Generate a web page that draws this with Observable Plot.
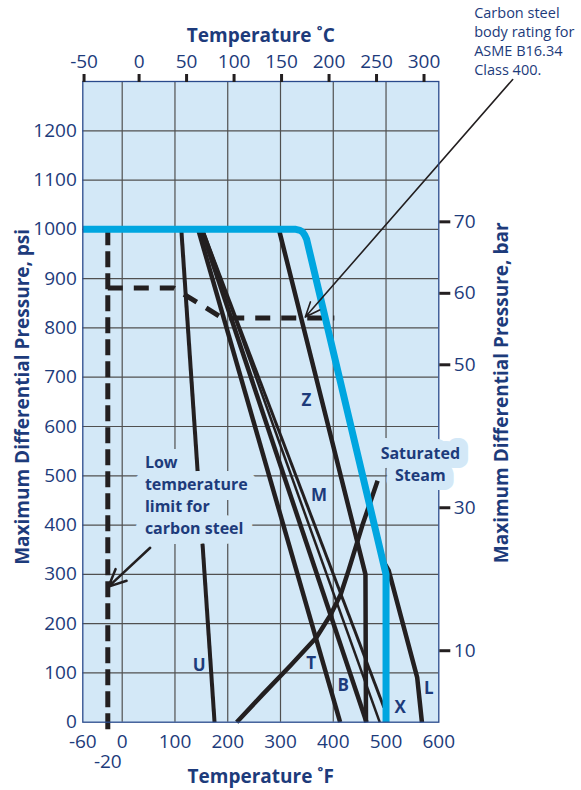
<!DOCTYPE html>
<html>
<head>
<meta charset="utf-8">
<script src="https://cdn.jsdelivr.net/npm/d3@7"></script>
<script src="https://cdn.jsdelivr.net/npm/@observablehq/plot@0.6"></script>
<style>
  html, body { margin: 0; padding: 0; background: #ffffff; }
  svg { display: block; }
</style>
</head>
<body>
<div id="chart"></div>
<script>
// ---------- colours ----------
const NAVY = "#1d3b7b";
const INK = "#231f20";
const BLUE = "#00a6e0";
const BG = "#d3e8f7";
const GRID = "#505050";
const FRAME = "#2a4a8c";

// ---------- ticks ----------
const PSI_PER_BAR = 14.5038;
const fTicks = [-60, 0, 100, 200, 300, 400, 500, 600];
const fLowTick = [-20];
const fGrid = [0, 100, 200, 300, 400, 500];
const cTicks = [-50, 0, 50, 100, 150, 200, 250, 300];
const psiTicks = [0, 100, 200, 300, 400, 500, 600, 700, 800, 900, 1000, 1100, 1200];
const psiGrid = [100, 200, 300, 400, 500, 600, 700, 800, 900, 1000, 1100, 1200];
const barTicks = [10, 30, 50, 60, 70];

// ---------- series: [temperature °F, pressure psi] ----------
const rating400 = [[-60, 1000], [329, 1000], [337, 998], [342, 994.5], [346, 988], [349.5, 980], [500, 300], [500, 0]];
const curveU = [[112, 1000], [175, 0]];
const curveT = [[144, 1000], [413, 0]];
const curveB = [[150, 1000], [463, 0]];
const curveM = [[153, 1000], [488, 0]];
const curveX = [[152, 1000], [496, 30]];
const curveZ = [[297, 1000], [461, 300], [462, 0]];
const curveL = [[493, 330], [505, 308], [559, 91], [568, 0]];
const saturatedSteam = [[217, 0], [266, 56], [319, 115], [368, 172], [395, 218], [414, 259], [429, 308], [455, 399], [484, 490]];
const lowLimit = [[-20, 1000], [-20, -25]];
const stepLimit = [[-20, 881], [98, 881], [190, 820], [402, 820]];

// ---------- annotations ----------
const curveLabelText = ["Z", "M", "T", "B", "X", "L", "U"];
const curveLabelF = [349, 373, 358, 419, 527, 581, 146];
const curveLabelPsi = [653, 460, 120, 75, 30, 68, 115];
const curveLabels = curveLabelText.map((t, i) => ({t, f: curveLabelF[i], p: curveLabelPsi[i]}));

const lowLabel = [{t: "Low\ntemperature\nlimit for\ncarbon steel", f: 43, p: 464}];
const steamLabel = [{t: "Saturated\nSteam", f: 565, p: 526}];
const ratingLabel = [{t: "Carbon steel\nbody rating for\nASME B16.34\nClass 400.", f: 667, p: 1383}];
const lowArrow = [{x1: 53, y1: 354, x2: -19, y2: 275}];
const ratingArrow = [{x1: 740, y1: 1304, x2: 347, y2: 822}];

const lineOpts = (w) => ({x: d => d[0], y: d => d[1], stroke: INK, strokeWidth: w, strokeLinecap: "butt", strokeLinejoin: "round"});

const chart = Plot.plot({
  width: 581,
  height: 790,
  marginLeft: 82.3,
  marginRight: 142.7,
  marginTop: 81,
  marginBottom: 68.3,
  style: {fontFamily: "'Open Sans', sans-serif", background: "#ffffff", overflow: "visible"},
  x: {type: "linear", domain: [-60, -20, 0, 600], range: [82.3, 107.3, 121.7, 438.3]},
  y: {type: "linear", domain: [0, 1300]},
  marks: [
    Plot.frame({fill: BG, stroke: "none"}),
    Plot.gridX({ticks: fGrid, stroke: GRID, strokeOpacity: 1, strokeWidth: 1.2}),
    Plot.gridY({ticks: psiGrid, stroke: GRID, strokeOpacity: 1, strokeWidth: 1.2}),

    Plot.line(curveL, lineOpts(4.5)),
    Plot.line(curveU, lineOpts(4)),
    Plot.line(curveT, lineOpts(4.5)),
    Plot.line(curveB, lineOpts(4.5)),
    Plot.line(curveM, lineOpts(2.5)),
    Plot.line(curveX, lineOpts(3)),
    Plot.line(curveZ, lineOpts(4.5)),
    Plot.line(saturatedSteam, lineOpts(4.5)),

    Plot.line(lowLimit, {...lineOpts(5), strokeDasharray: "16,6"}),
    Plot.line(stepLimit, {...lineOpts(5), strokeDasharray: "15,11", strokeLinejoin: "miter"}),

    Plot.line(rating400, {x: d => d[0], y: d => d[1], stroke: BLUE, strokeWidth: 7, strokeLinecap: "butt", strokeLinejoin: "round"}),

    Plot.arrow(lowArrow, {x1: "x1", y1: "y1", x2: "x2", y2: "y2", stroke: INK, strokeWidth: 2.5, headLength: 14, headAngle: 50}),
    Plot.arrow(ratingArrow, {x1: "x1", y1: "y1", x2: "x2", y2: "y2", stroke: INK, strokeWidth: 1.6, headLength: 15, headAngle: 45}),

    Plot.text(curveLabels, {x: "f", y: "p", text: "t", fill: NAVY, fontSize: 17, fontWeight: "bold"}),

    Plot.frame({stroke: FRAME, strokeWidth: 1.3}),

    Plot.text(lowLabel, {x: "f", y: "p", text: "t", textAnchor: "start", lineHeight: 1.375, fontSize: 16, fontWeight: "bold",
      fill: NAVY, stroke: BG, strokeWidth: 20, strokeLinejoin: "round", paintOrder: "stroke"}),
    Plot.text(steamLabel, {x: "f", y: "p", text: "t", textAnchor: "middle", lineHeight: 1.4, fontSize: 16, fontWeight: "bold",
      fill: NAVY, stroke: BG, strokeWidth: 18, strokeLinejoin: "round", paintOrder: "stroke"}),
    Plot.text(ratingLabel, {x: "f", y: "p", text: "t", textAnchor: "start", lineHeight: 1.3, fontSize: 14.5, fill: NAVY}),

    // axes
    Plot.axisX({anchor: "bottom", ticks: fTicks, tickFormat: d => String(d), tickSize: 0, tickPadding: 12, fontSize: 19, fill: NAVY, label: null}),
    Plot.axisX({anchor: "bottom", ticks: fLowTick, tickFormat: d => String(d), tickSize: 0, tickPadding: 32, fontSize: 19, fill: NAVY, label: null}),
    Plot.axisX({anchor: "top", ticks: cTicks.map(c => c * 9 / 5 + 32), tickFormat: f => String(Math.round((f - 32) * 5 / 9)),
      tickSize: 8, tickPadding: 6, strokeWidth: 3, stroke: INK, fill: NAVY, fontSize: 19, label: null}),
    Plot.axisY({anchor: "left", ticks: psiTicks, tickFormat: d => String(d), tickSize: 0, tickPadding: 6, fontSize: 19, fill: NAVY, label: null}),
    Plot.axisY({anchor: "right", ticks: barTicks.map(b => b * PSI_PER_BAR), tickFormat: p => String(Math.round(p / PSI_PER_BAR)),
      tickSize: 11, tickPadding: 4, strokeWidth: 3, stroke: INK, fill: NAVY, fontSize: 19, label: null}),

    // axis titles
    Plot.text(["Temperature ˚C"], {frameAnchor: "top", textAnchor: "middle", lineAnchor: "middle", dy: -46, fontSize: 19, fontWeight: "bold", fill: NAVY}),
    Plot.text(["Temperature ˚F"], {frameAnchor: "bottom", textAnchor: "middle", lineAnchor: "middle", dy: 55, fontSize: 19, fontWeight: "bold", fill: NAVY}),
    Plot.text(["Maximum Differential Pressure, psi"], {frameAnchor: "left", textAnchor: "middle", lineAnchor: "middle", rotate: -90, dx: -60, dy: -5, fontSize: 19, fontWeight: "bold", fill: NAVY}),
    Plot.text(["Maximum Differential Pressure, bar"], {frameAnchor: "right", textAnchor: "middle", lineAnchor: "middle", rotate: -90, dx: 63, dy: -9, fontSize: 19, fontWeight: "bold", fill: NAVY})
  ]
});

document.getElementById("chart").appendChild(chart);
</script>
</body>
</html>
